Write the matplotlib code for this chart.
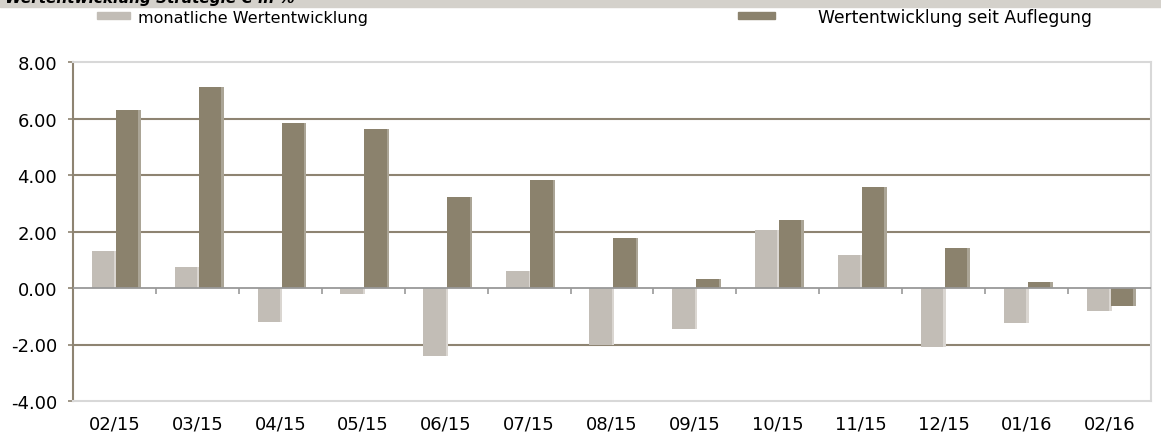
import numpy as np
import matplotlib
matplotlib.use("Agg")
import matplotlib.pyplot as plt
from matplotlib.patches import Rectangle

# Data (in %)
months = ["02/15", "03/15", "04/15", "05/15", "06/15", "07/15", "08/15",
          "09/15", "10/15", "11/15", "12/15", "01/16", "02/16"]
monthly = [1.32, 0.75, -1.22, -0.22, -2.40, 0.60, -2.02, -1.45, 2.07, 1.18, -2.10, -1.25, -0.82]
since_start = [6.30, 7.10, 5.85, 5.62, 3.22, 3.82, 1.77, 0.32, 2.40, 3.57, 1.43, 0.20, -0.62]

light = "#C2BDB6"
dark = "#8B826D"
grid_col = "#8E8472"

plt.rcParams["font.family"] = "DejaVu Sans"

fig = plt.figure(figsize=(11.61, 4.39), dpi=100)
ax = fig.add_axes([73 / 1161, 1 - 402 / 439, (1151 - 73) / 1161, (402 - 63) / 439])

x = np.arange(len(months))
w = 0.27
# soft shadow on the right of each bar
ax.bar(x - 0.14 + 0.03, monthly, w, color="#DAD6D1", zorder=2)
ax.bar(x + 0.15 + 0.03, since_start, w, color="#ABA596", zorder=2)
ax.bar(x - 0.14, monthly, w, color=light, zorder=3)
ax.bar(x + 0.15, since_start, w, color=dark, zorder=3)

ax.set_xlim(-0.5, len(months) - 0.5)
ax.set_ylim(-4, 8)
ax.set_yticks(np.arange(-4, 9, 2))
ax.set_yticklabels([f"{v:.2f}" for v in np.arange(-4, 9, 2)], fontsize=13)
ax.set_xticks(x)
ax.set_xticklabels(months, fontsize=13)
ax.tick_params(axis="x", length=0, pad=10)
ax.tick_params(axis="y", length=3.5, color=grid_col, pad=8, width=1.2)

for gy in [-2, 2, 4, 6]:
    ax.axhline(gy, color=grid_col, lw=1.5, zorder=1)
ax.axhline(0, color="#999999", lw=1.3, zorder=4)

for side in ["top", "right", "bottom"]:
    ax.spines[side].set_color("#D8D8D8")
    ax.spines[side].set_linewidth(1.5)
ax.spines["left"].set_color(grid_col)
ax.spines["left"].set_linewidth(1.5)

# category separator ticks on the zero line
sec = ax.secondary_xaxis(1 / 3)
sec.set_xticks(np.arange(0.5, len(months) - 0.5, 1))
sec.set_xticklabels([])
sec.tick_params(length=4, color="#999999", width=1.2, direction="out")
sec.spines["bottom"].set_visible(False)
sec.spines["top"].set_visible(False)

# header band with title cut off at the top
fig.add_artist(Rectangle((0, 1 - 8 / 439), 1, 8 / 439, transform=fig.transFigure,
                         color="#D4D1CB", zorder=0))
fig.text(5 / 1161, 1 - 3 / 439, "Wertentwicklung Strategie C in %", fontsize=11,
         fontweight="bold", fontstyle="italic", va="baseline", ha="left")

# legend
fig.add_artist(Rectangle((97 / 1161, 1 - 19.5 / 439), 33 / 1161, 7 / 439,
                         transform=fig.transFigure, color=light))
fig.text(138 / 1161, 1 - 18 / 439, "monatliche Wertentwicklung", fontsize=11.5, va="center")
fig.add_artist(Rectangle((738 / 1161, 1 - 19.5 / 439), 37 / 1161, 7 / 439,
                         transform=fig.transFigure, color=dark))
fig.text(818 / 1161, 1 - 18 / 439, "Wertentwicklung seit Auflegung", fontsize=12.3, va="center")

fig.savefig("out.png", dpi=100)
